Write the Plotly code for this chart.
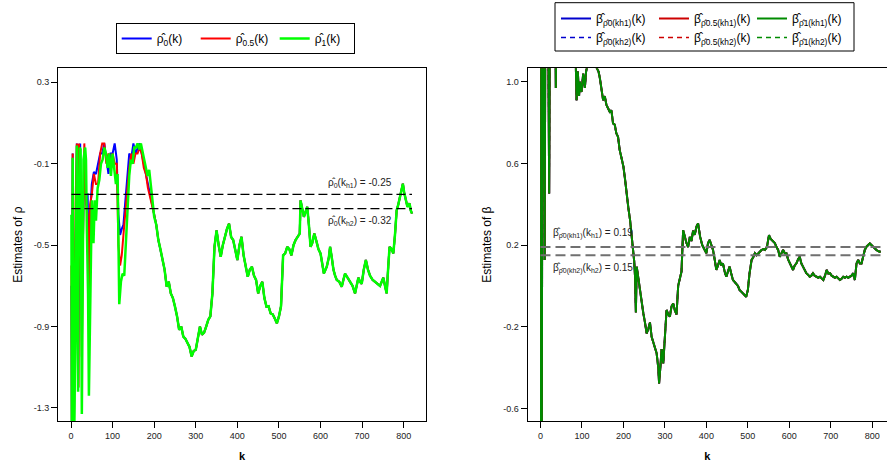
import plotly.graph_objects as go

FONT = "Liberation Sans, Arial, Helvetica, sans-serif"

# ---------------- data: left panel (estimates of rho) ----------------
k_rho0_early = [1, 2, 4, 7, 12, 14, 17, 20, 22, 25,
                27, 30, 33, 36, 40, 43, 46, 50, 55, 60,
                65, 70, 75, 80, 85, 90, 95, 100, 105, 110,
                114, 118, 122, 126, 130, 135, 140, 145, 150, 155,
                160, 165, 170, 175, 180, 185, 190, 195, 200]
rho0_early = [-0.70, -1.40, -0.05, -1.40, -0.30, 0.00, -1.20, -0.20, 0.00, -0.50,
              -0.70, -0.30, -0.05, -0.25, -0.25, -0.70, -0.35, -0.20, -0.14, -0.15,
              -0.10, -0.05, -0.05, 0.00, -0.08, -0.15, -0.05, -0.05, 0.00, -0.08,
              -0.35, -0.45, -0.42, -0.40, -0.30, -0.15, -0.05, -0.07, 0.00, -0.05,
              -0.02, 0.00, -0.05, -0.10, -0.15, -0.20, -0.26, -0.30, -0.35]

k_rho05_early = [1, 2, 4, 7, 11, 14, 18, 19, 22, 26,
                 28, 32, 36, 40, 43, 46, 50, 55, 60, 65,
                 70, 75, 80, 85, 90, 95, 100, 105, 110, 114,
                 118, 122, 126, 130, 135, 140, 145, 150, 155, 160,
                 165, 170, 175, 180, 185, 190, 195, 200]
rho05_early = [-0.60, -1.40, -0.05, -1.40, -0.30, 0.00, -1.20, 0.00, -0.30, -1.05,
               -0.60, 0.00, -0.30, -0.35, -0.85, -0.30, -0.25, -0.15, -0.20, -0.20,
               -0.05, 0.00, 0.00, -0.10, -0.05, -0.10, -0.05, -0.10, -0.10, -0.50,
               -0.60, -0.55, -0.45, -0.35, -0.25, -0.12, -0.05, -0.10, -0.05, -0.05,
               -0.02, -0.05, -0.12, -0.15, -0.22, -0.26, -0.30, -0.35]

k_rho1_early = [1, 2, 4, 6, 8, 11, 14, 15, 17, 18,
                21, 23, 25, 26, 28, 30, 34, 36, 38, 41,
                43, 46, 48, 50, 54, 57, 60, 64, 68, 72,
                76, 80, 84, 88, 92, 96, 100, 104, 108, 112,
                116, 120, 124, 128, 132, 136, 140, 144, 148, 152,
                156, 160, 164, 168, 172, 176, 180, 184, 188, 192,
                196, 200]
rho1_early = [-0.35, -1.40, -0.07, -0.74, -1.40, -0.74, -0.01, -0.74, -1.22, -0.58,
              -0.02, -0.03, -0.74, -1.33, -0.74, -0.08, -0.02, -0.08, -0.41, -0.74,
              -1.24, -0.74, -0.44, -0.28, -0.49, -0.28, -0.38, -0.22, -0.18, -0.10,
              -0.08, -0.02, -0.05, -0.12, -0.05, -0.16, -0.05, -0.13, -0.20, -0.15,
              -0.79, -0.68, -0.64, -0.65, -0.48, -0.28, -0.16, -0.08, -0.10, -0.02,
              -0.02, 0.00, -0.03, 0.00, -0.05, -0.08, -0.12, -0.16, -0.13, -0.21,
              -0.29, -0.36]

# common part of the three rho estimates (k > 200)
k_tail = [205, 210, 215, 220, 225, 230, 235, 240, 245, 250,
          255, 260, 265, 270, 275, 280, 285, 290, 295, 300,
          305, 310, 315, 320, 325, 330, 335, 340, 345, 350,
          355, 360, 365, 370, 375, 380, 385, 390, 395, 400,
          405, 410, 415, 420, 425, 430, 435, 440, 445, 450,
          455, 460, 465, 470, 475, 480, 485, 490, 495, 500,
          505, 510, 515, 520, 525, 530, 535, 540, 545, 550,
          552, 556, 560, 565, 568, 572, 576, 580, 585, 590,
          595, 600, 605, 608, 612, 615, 620, 623, 627, 631,
          635, 639, 645, 651, 655, 659, 665, 671, 677, 683,
          687, 691, 695, 699, 704, 709, 714, 719, 725, 731,
          737, 743, 747, 751, 755, 759, 763, 766, 771, 775,
          779, 783, 787, 791, 795, 798, 801, 803, 806, 809,
          812, 814, 817, 820]
rho_tail = [-0.40, -0.475, -0.52, -0.573, -0.62, -0.704, -0.68, -0.737, -0.76, -0.802,
            -0.85, -0.916, -0.90, -0.949, -0.96, -0.98, -1.00, -1.047, -1.02, -1.014,
            -0.95, -0.90, -0.94, -0.93, -0.90, -0.867, -0.85, -0.737, -0.508, -0.427,
            -0.50, -0.557, -0.50, -0.459, -0.42, -0.394, -0.46, -0.475, -0.52, -0.573,
            -0.50, -0.459, -0.55, -0.60, -0.655, -0.62, -0.606, -0.65, -0.671, -0.737,
            -0.70, -0.68, -0.76, -0.802, -0.80, -0.835, -0.84, -0.86, -0.884, -0.85,
            -0.80, -0.55, -0.54, -0.508, -0.52, -0.55, -0.50, -0.475, -0.46, -0.443,
            -0.28, -0.33, -0.361, -0.33, -0.312, -0.40, -0.508, -0.49, -0.443, -0.48,
            -0.52, -0.541, -0.60, -0.639, -0.62, -0.606, -0.56, -0.508, -0.56, -0.62,
            -0.65, -0.671, -0.68, -0.704, -0.67, -0.64, -0.66, -0.68, -0.70, -0.737,
            -0.70, -0.66, -0.68, -0.69, -0.62, -0.573, -0.62, -0.65, -0.67, -0.68,
            -0.69, -0.70, -0.68, -0.66, -0.70, -0.737, -0.60, -0.508, -0.52, -0.541,
            -0.45, -0.329, -0.30, -0.263, -0.22, -0.198, -0.24, -0.263, -0.29, -0.312,
            -0.30, -0.295, -0.33, -0.345]

rho_kh1 = -0.25
rho_kh2 = -0.32
ref_k = [1, 820]

# ---------------- data: right panel (estimates of beta) ----------------
k_beta = [1, 2, 3, 5, 8, 10, 12, 18, 21, 23,
          35, 37, 39, 60, 80, 85, 87, 90, 93, 95,
          99, 103, 107, 110, 113, 120, 130, 135, 140, 143,
          147, 151, 155, 159, 163, 167, 171, 175, 179, 183,
          187, 191, 195, 200, 204, 208, 212, 216, 220, 224,
          226, 228, 230, 232, 236, 240, 244, 248, 252, 256,
          260, 264, 268, 272, 276, 280, 284, 286, 289, 292,
          296, 300, 304, 308, 312, 316, 320, 324, 328, 332,
          336, 340, 344, 348, 352, 356, 360, 364, 368, 372,
          376, 380, 385, 390, 395, 400, 404, 408, 412, 416,
          420, 424, 428, 432, 436, 440, 444, 448, 452, 456,
          460, 464, 468, 472, 476, 480, 484, 488, 492, 496,
          500, 504, 509, 513, 517, 521, 525, 529, 533, 537,
          541, 546, 551, 555, 559, 565, 569, 573, 577, 581,
          585, 589, 593, 597, 601, 605, 609, 613, 617, 621,
          625, 629, 633, 637, 641, 645, 649, 653, 657, 661,
          665, 670, 674, 678, 682, 686, 690, 694, 698, 702,
          706, 710, 714, 718, 722, 726, 730, 734, 738, 742,
          746, 750, 754, 758, 762, 766, 770, 774, 778, 782,
          786, 790, 794, 798, 802, 806, 810, 814, 818, 820]
beta_est = [-1.5, 2.0, -1.2, 2.0, 1.5, 0.127, 1.5, 1.5, 0.453, 1.5,
            1.5, 0.97, 1.5, 1.4, 1.2, 1.1, 0.91, 1.05, 0.93, 1.0,
            0.95, 1.04, 0.97, 1.05, 1.08, 1.1, 1.09, 1.07, 1.05, 1.02,
            0.96, 0.91, 0.93, 0.886, 0.87, 0.853, 0.86, 0.796, 0.79, 0.747,
            0.73, 0.665, 0.63, 0.584, 0.52, 0.437, 0.38, 0.322, 0.25, 0.176,
            0.12, 0.045, -0.13, 0.094, 0.03, -0.02, -0.07, -0.135, -0.18, -0.233,
            -0.21, -0.18, -0.25, -0.28, -0.30, -0.33, -0.40, -0.478, -0.40, -0.31,
            -0.38, -0.25, -0.118, -0.14, -0.15, -0.10, -0.086, -0.12, -0.14, 0.0,
            0.045, 0.07, 0.273, 0.24, 0.21, 0.19, 0.24, 0.22, 0.27, 0.25,
            0.29, 0.306, 0.24, 0.20, 0.176, 0.16, 0.21, 0.225, 0.20, 0.176,
            0.13, 0.078, 0.10, 0.127, 0.10, 0.11, 0.07, 0.045, 0.07, 0.094,
            0.06, 0.029, 0.02, 0.012, 0.0, -0.02, -0.03, -0.037, -0.045, -0.053,
            -0.02, 0.06, 0.127, 0.14, 0.16, 0.15, 0.16, 0.17, 0.176, 0.18,
            0.176, 0.19, 0.249, 0.23, 0.22, 0.21, 0.19, 0.176, 0.143, 0.16,
            0.176, 0.16, 0.16, 0.13, 0.11, 0.09, 0.078, 0.10, 0.11, 0.13,
            0.143, 0.11, 0.094, 0.08, 0.062, 0.055, 0.045, 0.05, 0.062, 0.05,
            0.045, 0.04, 0.045, 0.035, 0.029, 0.05, 0.078, 0.06, 0.062, 0.05,
            0.045, 0.04, 0.045, 0.035, 0.029, 0.035, 0.045, 0.04, 0.045, 0.04,
            0.045, 0.05, 0.062, 0.029, 0.11, 0.127, 0.11, 0.11, 0.143, 0.176,
            0.192, 0.20, 0.208, 0.20, 0.192, 0.18, 0.176, 0.17, 0.167, 0.17]

beta_kh1 = 0.19
beta_kh2 = 0.15
beta_ref_k = [0, 820]

x_ticks = [0, 100, 200, 300, 400, 500, 600, 700, 800]
y1_ticks = [-1.3, -0.9, -0.5, -0.1, 0.3]
y1_text = ["-1.3", "-0.9", "-0.5", "-0.1", "0.3"]
y2_ticks = [-0.6, -0.2, 0.2, 0.6, 1.0]
y2_text = ["-0.6", "-0.2", "0.2", "0.6", "1.0"]

rho_names = ["ρ̂<sub>0</sub>(k)", "ρ̂<sub>0.5</sub>(k)", "ρ̂<sub>1</sub>(k)"]
rho_colors = ["#0000FF", "#FF0000", "#00FF00"]
rho_widths = [2, 2, 2.5]
beta_colors = ["#0000CD", "#CD0000", "#008B00"]
beta_tags = ["0", "0.5", "1"]

fig = go.Figure()

# left panel lines
left_k = [k_rho0_early + k_tail, k_rho05_early + k_tail, k_rho1_early + k_tail]
left_v = [rho0_early + rho_tail, rho05_early + rho_tail, rho1_early + rho_tail]
for kk, vv, nm, col, lw in zip(left_k, left_v, rho_names, rho_colors, rho_widths):
    fig.add_trace(go.Scatter(x=kk, y=vv, mode="lines", name=nm,
                             line=dict(color=col, width=lw),
                             xaxis="x", yaxis="y", legend="legend"))
for val in (rho_kh1, rho_kh2):
    fig.add_trace(go.Scatter(x=ref_k, y=[val, val], mode="lines", showlegend=False,
                             line=dict(color="black", width=1.2, dash="9px,4px"),
                             xaxis="x", yaxis="y", hoverinfo="skip"))

# right panel lines: dashed (kh2) first, solid (kh1) on top
legends = ["legend2", "legend3", "legend4"]
for i in range(3):
    fig.add_trace(go.Scatter(x=k_beta, y=beta_est, mode="lines",
                             name="β̂<sub>ρ̂%s(kh2)</sub>(k)" % beta_tags[i],
                             line=dict(color=beta_colors[i], width=1.5, dash="5px,4px"),
                             xaxis="x2", yaxis="y2", legend=legends[i], legendrank=2))
for i in range(3):
    fig.add_trace(go.Scatter(x=k_beta, y=beta_est, mode="lines",
                             name="β̂<sub>ρ̂%s(kh1)</sub>(k)" % beta_tags[i],
                             line=dict(color=beta_colors[i], width=2),
                             xaxis="x2", yaxis="y2", legend=legends[i], legendrank=1))
for val in (beta_kh1, beta_kh2):
    fig.add_trace(go.Scatter(x=beta_ref_k, y=[val, val], mode="lines", showlegend=False,
                             line=dict(color="#707070", width=2, dash="10px,5px"),
                             xaxis="x2", yaxis="y2", hoverinfo="skip"))

W, H = 887, 471
axis_common = dict(showline=True, linecolor="black", linewidth=1, mirror=True,
                   ticks="outside", ticklen=6, tickcolor="black", tickwidth=1,
                   showgrid=False, zeroline=False,
                   tickfont=dict(size=9, color="#222222", family=FONT))
ydom = [1 - 421 / H, 1 - 68.3 / H]

fig.update_layout(
    width=W, height=H, margin=dict(l=0, r=0, t=0, b=0),
    template="none", paper_bgcolor="white", plot_bgcolor="white",
    font=dict(family=FONT, size=10, color="black"),
    xaxis=dict(domain=[58 / W, 426 / W], range=[-31.3, 853.6], tickvals=x_ticks,
               title=dict(text="<b>k</b>", font=dict(size=11), standoff=12),
               anchor="y", **axis_common),
    yaxis=dict(domain=ydom, range=[-1.364, 0.369], tickvals=y1_ticks, ticktext=y1_text,
               title=dict(text="Estimates of ρ", font=dict(size=12), standoff=8),
               anchor="x", **axis_common),
    xaxis2=dict(domain=[527.5 / W, 1.0], range=[-31.3, 835.5], tickvals=x_ticks,
                title=dict(text="<b>k</b>", font=dict(size=11), standoff=12),
                anchor="y2", **axis_common),
    yaxis2=dict(domain=ydom, range=[-0.662, 1.066], tickvals=y2_ticks, ticktext=y2_text,
                title=dict(text="Estimates of β", font=dict(size=12), standoff=8),
                anchor="x2", **axis_common),
    legend=dict(orientation="h", x=115.7 / W, y=1 - 23 / H, xanchor="left", yanchor="top",
                bordercolor="black", borderwidth=1, bgcolor="white",
                entrywidth=34, entrywidthmode="pixels",
                font=dict(size=12, family=FONT)),
    legend2=dict(orientation="v", x=556 / W, y=1 - 4 / H, xanchor="left", yanchor="top",
                 bgcolor="rgba(0,0,0,0)", borderwidth=0, tracegroupgap=0,
                 font=dict(size=12, family=FONT)),
    legend3=dict(orientation="v", x=654 / W, y=1 - 4 / H, xanchor="left", yanchor="top",
                 bgcolor="rgba(0,0,0,0)", borderwidth=0, tracegroupgap=0,
                 font=dict(size=12, family=FONT)),
    legend4=dict(orientation="v", x=752 / W, y=1 - 4 / H, xanchor="left", yanchor="top",
                 bgcolor="rgba(0,0,0,0)", borderwidth=0, tracegroupgap=0,
                 font=dict(size=12, family=FONT)),
    shapes=[dict(type="rect", xref="paper", yref="paper",
                 x0=555 / W, x1=854 / W, y0=1 - 51 / H, y1=1 - 2.7 / H,
                 line=dict(color="black", width=1))],
    annotations=[
        dict(x=695, y=-0.195, xref="x", yref="y", showarrow=False,
             text="ρ̂<sub>0</sub>(k<sub>h1</sub>) = -0.25", font=dict(size=10, color="#222222")),
        dict(x=695, y=-0.381, xref="x", yref="y", showarrow=False,
             text="ρ̂<sub>0</sub>(k<sub>h2</sub>) = -0.32", font=dict(size=10, color="#222222")),
        dict(x=25, y=0.258, xref="x2", yref="y2", showarrow=False, xanchor="left",
             text="β̂<sub>ρ̂0(kh1)</sub>(k<sub>h1</sub>) = 0.19", font=dict(size=10, color="#222222")),
        dict(x=25, y=0.086, xref="x2", yref="y2", showarrow=False, xanchor="left",
             text="β̂<sub>ρ̂0(kh2)</sub>(k<sub>h2</sub>) = 0.15", font=dict(size=10, color="#222222")),
    ],
)

fig.write_html("out.html")
